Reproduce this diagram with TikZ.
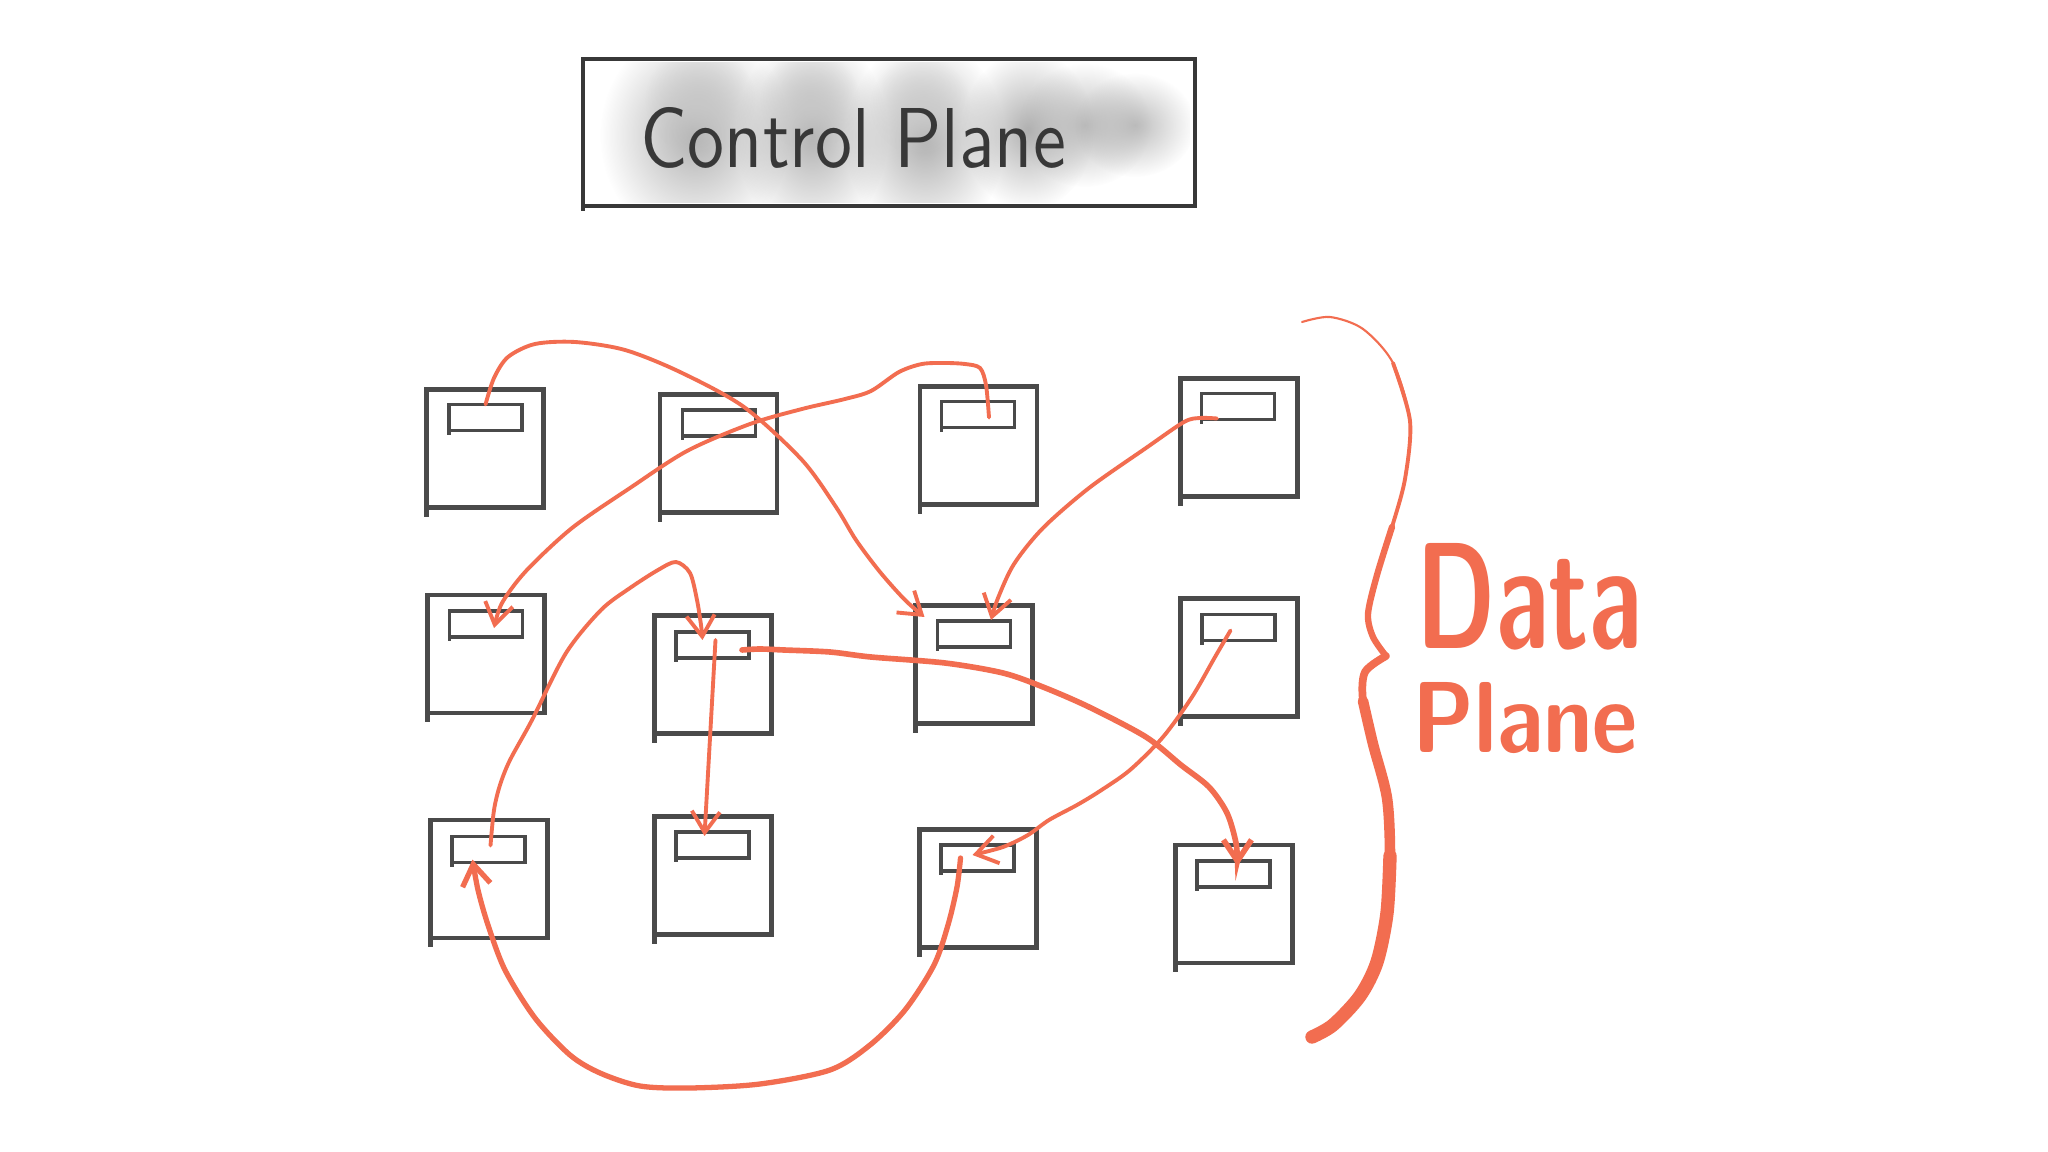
\documentclass[tikz,border=0pt]{standalone}
\usepackage{graphicx}
\usetikzlibrary{arrows.meta,fadings,calc}
\definecolor{srvgray}{HTML}{4A4A4A}
\definecolor{accent}{HTML}{F26D50}
\definecolor{inkgray}{HTML}{383838}
\tikzfading[name=softblob, inner color=transparent!15, outer color=transparent!100]
\begin{document}
\begin{tikzpicture}[x=0.01cm,y=-0.01cm,
 srv/.style={draw=srvgray,line width=1.2pt,minimum width=1.17cm,minimum height=1.18cm,inner sep=0pt,outer sep=0pt},
 port/.style={draw=srvgray,line width=1.1pt,minimum width=0.73cm,minimum height=0.26cm,inner sep=0pt,outer sep=0pt},
 srvtick/.style={draw=srvgray,line width=1.2pt},
 flow/.style={draw=accent,line width=1.1pt,line cap=round,-{Straight Barb[length=6pt,width=8pt]}},
 blob/.style={fill=black!36,path fading=softblob}]
\fill[white] (0,0) rectangle (2048,1152);
\useasboundingbox (0,0) rectangle (2048,1152);

% gray wash behind Control Plane
\begin{scope}
\clip (588,63) rectangle (1190,203);
\fill[blob] (695,135) ellipse (95 and 108);
\fill[blob] (812,135) ellipse (76 and 102);
\fill[blob] (925,140) ellipse (80 and 100);
\fill[blob] (1028,130) ellipse (66 and 80);
\fill[blob,fill=black!30] (1085,125) ellipse (66 and 62);
\fill[blob,fill=black!30] (1135,125) ellipse (60 and 52);
\fill[blob,fill=black!22] (700,100) ellipse (55 and 55);
\fill[blob,fill=black!22] (810,100) ellipse (50 and 50);
\fill[blob,fill=black!20] (920,105) ellipse (50 and 50);
\end{scope}

\node[draw=inkgray,line width=1pt,minimum width=6.12cm,minimum height=1.47cm,inner sep=0pt,outer sep=0pt] (cp) at (889,132.5) {};
\draw[inkgray,line width=1pt] (cp.south west) -- ++(0,5);
\node[anchor=base west,inner sep=0pt,text=inkgray] (cptext) at (640,168) {\resizebox{4.25cm}{0.6cm}{\sffamily Control Plane}};

% servers
\node[srv] (s11) at (485,448.5) {};   \node[port] (s11i) at (485.5,417.5) {};
\node[srv] (s12) at (718.5,453.5) {}; \node[port] (s12i) at (719,423) {};
\node[srv] (s13) at (978.5,445.5) {}; \node[port] (s13i) at (978,414.5) {};
\node[srv] (s14) at (1239,437.5) {};  \node[port] (s14i) at (1238,406.5) {};
\node[srv] (s21) at (486,654) {};     \node[port] (s21i) at (486,624) {};
\node[srv] (s22) at (713,674.5) {};   \node[port] (s22i) at (712.5,645) {};
\node[srv] (s23) at (974,664.5) {};   \node[port] (s23i) at (974,634) {};
\node[srv] (s24) at (1239,657.5) {};  \node[port] (s24i) at (1238.5,627.5) {};
\node[srv] (s31) at (489,879) {};     \node[port] (s31i) at (488.5,849.5) {};
\node[srv] (s32) at (713,875.5) {};   \node[port] (s32i) at (712.5,845) {};
\node[srv] (s33) at (978,888.5) {};   \node[port] (s33i) at (977.5,858) {};
\node[srv] (s34) at (1234,904) {};    \node[port] (s34i) at (1233.5,874) {};
\foreach \n in {s11,s12,s13,s14,s21,s22,s23,s24,s31,s32,s33,s34}{
  \draw[srvtick] (\n.south west) -- ++(0,9);
  \draw[srvtick,line width=1.1pt] (\n i.south west) -- ++(0,4);
}

% connector ends
\coordinate (aS) at (s11i.north);
\coordinate (aE) at ($(s23i.north west)+(-13,-4)$);
\coordinate (bS) at ($(s13i.center)+(11,3)$);
\coordinate (bE) at ($(s21i.center)+(8,4)$);
\coordinate (cS) at ($(s14i.south)+(-21,-1)$);
\coordinate (cE) at ($(s23i.north)+(17,-1)$);
\coordinate (dS) at ($(s31i.center)+(2,-4)$);
\coordinate (dE) at ($(s22i.north)+(-10,8)$);
\coordinate (eS) at ($(s22i.center)+(3,-5)$);
\coordinate (eE) at ($(s32i.north)+(-8,4)$);
\coordinate (fS) at ($(s22i.east)+(-7,5)$);
\coordinate (fE) at ($(s34i.north)+(4,5)$);
\coordinate (gS) at ($(s24i.center)+(-8,3)$);
\coordinate (gE) at ($(s33i.center)+(-5,-3)$);
\coordinate (hS) at ($(s33i.center)+(-17,0)$);
\coordinate (hE) at ($(s31i.south)+(-16,-3)$);

\draw[flow] plot[smooth] coordinates {(aS) (494,378) (508,357) (535,344) (575,342) (625,350) (680,372) (744,407) (802,460) (836,507) (856,540) (880,572) (905,600) (aE)};
\draw[flow] plot[smooth] coordinates {(bS) (986,385) (980,368) (965,364) (945,363) (922,364) (899,372) (871,391) (845,399) (802,409) (750,424) (687,451) (630,488) (572,528) (526,571) (502,603) (bE)};
\draw[flow] plot[smooth] coordinates {(cS) (1200,418) (1184,422) (1146,448) (1089,488) (1043,528) (1014,564) (998,598) (cE)};
\draw[flow] plot[smooth] coordinates {(dS) (494,810) (500,785) (510,760) (532,720) (566,653) (601,610) (630,588) (658,570) (676,562) (690,573) (697,600) (701,625) (dE)};
\draw[flow] (eS) -- (eE);
\draw[flow,line width=1.6pt] plot[smooth] coordinates {(fS) (760,649) (784,650) (830,652) (871,657) (945,663) (1003,673) (1043,687) (1089,707) (1146,737) (1181,765) (1209,787) (1227,813) (1236,843) (fE)};
\draw[flow] plot[smooth] coordinates {(gS) (1215,657) (1192,697) (1163,737) (1130,770) (1100,791) (1077,805) (1049,820) (1028,835) (1003,847) (gE)};
\draw[flow,line width=1.5pt] plot[smooth] coordinates {(hS) (957,887) (948,925) (934,965) (905,1010) (870,1045) (830,1070) (760,1084) (690,1088) (640,1086) (600,1073) (570,1055) (535,1018) (505,970) (488,925) (478,890) (hE)};

% brace
\begin{scope}[accent,line cap=round,line join=round]
\draw[line width=0.6pt] plot[smooth] coordinates {(1302,322) (1330,317) (1363,329) (1393,363) (1410,421) (1405,479) (1392,527) (1377,575) (1368,614) (1373,637) (1386,656)};
\draw[line width=1.1pt] plot[smooth] coordinates {(1393,363) (1410,421) (1405,479) (1392,527) (1377,575) (1368,614) (1373,637) (1386,656)};
\draw[line width=1.8pt] plot[smooth] coordinates {(1392,527) (1377,575) (1368,614) (1373,637) (1386,656)};
\draw[line width=2.2pt] plot[smooth] coordinates {(1386,656) (1365,672) (1363,701) (1373,744) (1387,798) (1390,856) (1387,913) (1377,962) (1360,996) (1333,1025) (1312,1037)};
\draw[line width=3pt] plot[smooth] coordinates {(1363,701) (1373,744) (1387,798) (1390,856) (1387,913) (1377,962) (1360,996) (1333,1025) (1312,1037)};
\draw[line width=3.8pt] plot[smooth] coordinates {(1390,856) (1387,913) (1377,962) (1360,996) (1333,1025) (1312,1037)};
\end{scope}

\node[anchor=base west,inner sep=0pt,text=accent] (dptext) at (1416,648) {\resizebox{2.25cm}{1.05cm}{\sffamily\bfseries Data}};
\node[anchor=base west,inner sep=0pt,text=accent] (pltext) at (1412,752) {\resizebox{2.25cm}{0.7cm}{\sffamily\bfseries Plane}};
\end{tikzpicture}
\end{document}
